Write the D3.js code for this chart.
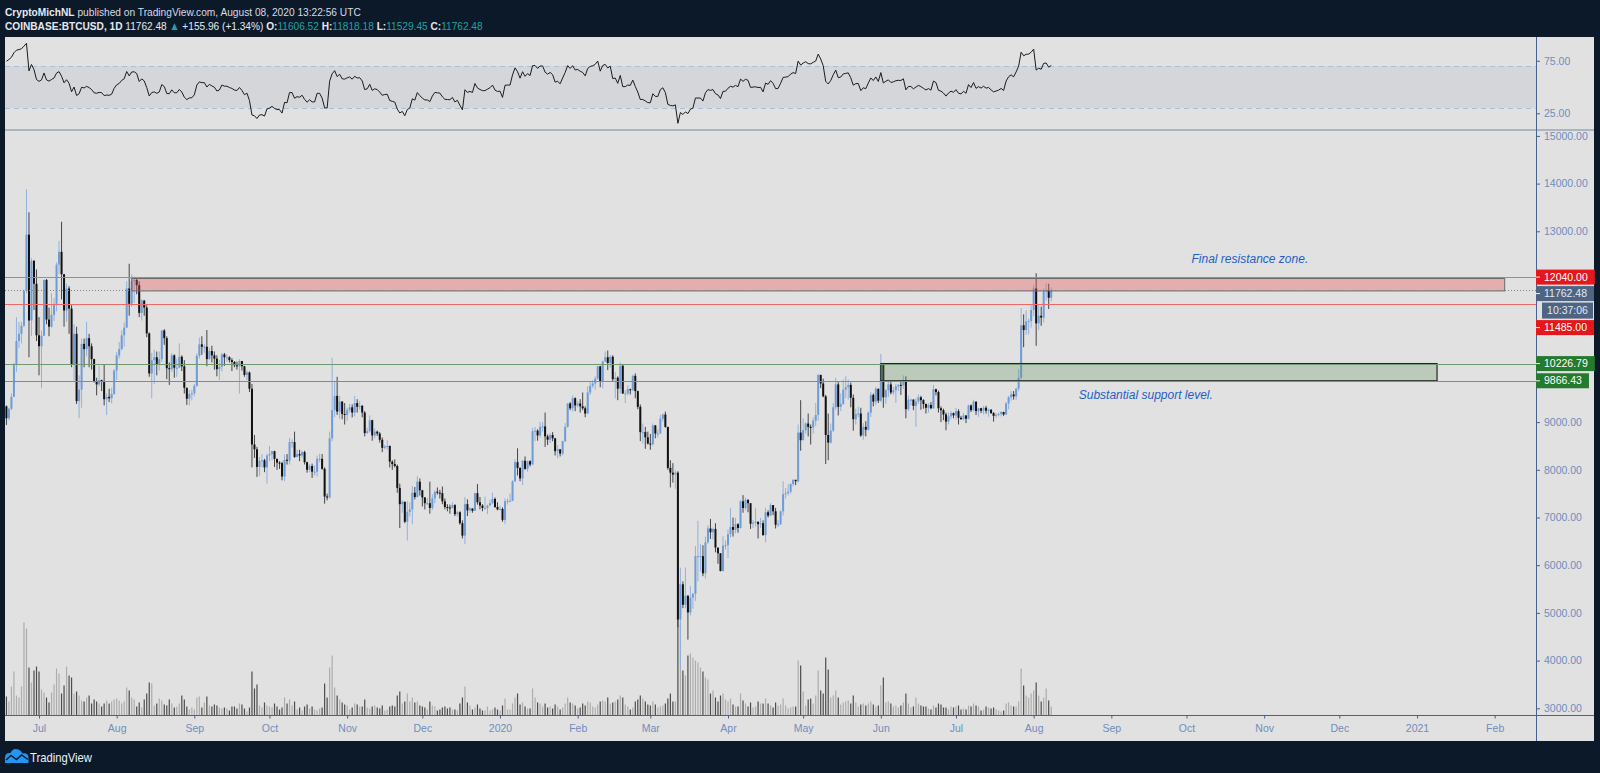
<!DOCTYPE html>
<html lang="en">
<head>
<meta charset="UTF-8">
<title>BTCUSD 1D</title>
<script src="https://cdn.jsdelivr.net/npm/d3@7"></script>
<style>
  html, body { margin: 0; padding: 0; background: #0c1929; }
  svg { display: block; font-family: "Liberation Sans", Arial, sans-serif; }
</style>
</head>
<body>
<svg id="chart" width="1600" height="773"></svg>
<script>
// ---- data (COINBASE:BTCUSD daily) ----
const startDay = "2019-06-18";
const firstOpen = 9330;
// closes Jun 4 - Jun 17 2019, only used to start the RSI
const warmupCloses = [7680, 7790, 7810, 8000, 7940, 7630, 8020, 7910, 8170, 8240, 8690, 8860, 8990, 9330];

const closes = [
  9080,9280,9530,10200,10700,10850,11020,11750,12930,11130,12380,11900,10820,
  10590,10810,11980,11150,11000,11250,11480,12300,12570,12100,11340,11800,11380,10200,10850,9440,9680,10640,10530,10760,10590,10320,9850,9790,9880,9850,9480,9530,9500,9590,10080,
  10400,10530,10820,10980,11800,11480,11960,11980,11870,11290,11550,11400,10860,10020,10300,10360,10220,10320,10920,10760,10130,10110,10400,10140,10140,10370,10170,9720,9490,9590,9600,
  9760,10390,10630,10580,10580,10320,10490,10400,10330,10110,10160,10420,10360,10360,10300,10260,10190,10170,10280,10170,9990,10040,9700,8530,8430,8060,8190,8200,8050,8300,
  8330,8390,8230,8150,8140,7860,8210,8190,8580,8580,8270,8330,8300,8370,8160,8000,8080,7960,7960,8230,8230,8020,7440,7420,8660,9250,9550,9220,9430,9170,9150,
  9250,9310,9200,9400,9320,9340,9200,8770,8810,9040,8720,8800,8760,8630,8460,8490,8500,8170,8120,8080,7620,7280,7330,6910,7120,7170,7520,7430,7750,7570,
  7420,7300,7300,7200,7400,7540,7520,7510,7340,7220,7210,7200,7260,7070,7110,6880,6620,7280,7150,7190,7140,7510,7320,7250,7200,7200,7250,7300,7390,7220,7170,
  7180,6950,7340,7350,7350,7760,8160,8040,7820,8190,8020,8180,8110,8810,8820,8720,8900,8910,8700,8630,8730,8660,8390,8430,8340,8600,8900,9390,9290,9500,9350,
  9390,9330,9290,9180,9620,9760,9810,9910,10170,9850,10270,10360,10240,10370,9900,9930,9700,10180,9600,9600,9690,9670,9970,9650,9320,8790,8790,8680,8550,
  8540,8930,8760,8760,9070,9160,8900,8040,7940,7900,7940,4860,5600,5170,5360,5010,5320,5400,6190,6190,6190,5830,6480,6770,6690,6760,6370,6250,5880,6410,6420,
  6650,6800,6740,6860,6780,7340,7200,7370,7300,6870,6890,6910,6860,6880,6630,7110,7040,7260,7130,6850,6860,7130,7490,7510,7540,7700,7790,7760,8780,8620,
  8830,8970,8900,8890,9030,9150,9990,9810,9540,8730,8570,8820,9310,9790,9320,9380,9680,9730,9780,9510,9060,9170,9180,8720,8900,8840,9200,9570,9430,9700,9450,
  10200,9520,9670,9790,9620,9670,9750,9780,9770,9880,9270,9470,9470,9340,9430,9520,9460,9380,9300,9360,9290,9690,9630,9290,9250,9160,9010,9120,9190,9140,
  9230,9090,9060,9140,9070,9350,9250,9430,9230,9290,9240,9300,9240,9260,9190,9130,9150,9170,9210,9160,9390,9520,9580,9540,9700,9930,11030,10930,11110,11120,11350,
  11800,11070,11230,11190,11740,11770,11606.52,11762.48
];

const highs = [
  9350,9300,9600,10240,11200,11100,11100,11780,13880,13400,12440,12400,12200,
  11200,10920,11990,12000,11400,11700,11600,12350,12800,13200,12100,11900,11850,11450,11050,11000,9980,10750,10750,11100,10850,10650,10330,9930,10180,9890,10200,9600,9700,9720,10110,
  10470,10680,10920,11090,11950,12320,12100,12050,12000,11950,11580,11550,11450,10880,10450,10520,10480,10480,10930,10950,10800,10250,10450,10420,10330,10650,10400,10300,9720,9670,9680,
  9800,10440,10770,10800,10630,10930,10560,10600,10480,10400,10300,10450,10450,10420,10380,10340,10280,10270,10320,10280,10180,10080,10060,9800,8730,8480,8270,8330,8230,8340,
  8500,8400,8400,8230,8180,8170,8320,8330,8670,8640,8800,8420,8420,8400,8400,8170,8120,8130,8090,8300,8340,8330,8050,7500,8800,10350,9850,9950,9550,9440,9400,
  9300,9380,9370,9550,9480,9440,9360,9230,8880,9140,9050,8860,8820,8790,8680,8520,8620,8510,8200,8220,8110,7710,7360,7330,7340,7320,7660,7640,7870,7820,
  7580,7430,7410,7750,7490,7570,7630,7580,7650,7400,7280,7270,7320,7280,7140,7130,6940,7430,7380,7220,7190,7520,7700,7430,7280,7440,7270,7370,7520,7420,7320,
  7250,7210,7400,7400,7500,7780,8220,8450,8050,8200,8280,8190,8200,8880,8900,8850,9000,9000,9200,8740,8770,8790,8670,8520,8430,8610,8980,9400,9420,9560,9520,
  9440,9480,9620,9330,9750,9860,9880,9960,10180,10180,10290,10480,10500,10400,10400,10050,9960,10250,10200,9670,9770,9700,9990,10020,9660,9370,8970,8900,8800,
  8750,8970,8940,8850,9150,9180,9220,8900,8200,8140,7990,7970,5950,5660,5950,5370,5560,5420,6400,6930,6450,6420,6600,6840,6970,6790,6880,6290,6250,6610,6520,
  6750,7200,7000,6990,6880,7360,7470,7420,7380,7300,6950,7200,6920,6990,6940,7200,7150,7300,7260,7200,6950,7150,7760,7620,7700,7720,7800,7790,8950,9460,
  9080,9000,9180,8950,9100,9400,10000,9990,9910,9570,9180,8970,9400,9930,9840,9600,9890,9960,9890,9830,9580,9280,9320,9300,8980,9020,9220,9630,9600,9740,9700,
  10430,10230,9690,9880,9850,9740,9800,9800,9880,9980,9960,9560,9490,9480,9500,9580,9550,9480,9390,9400,9420,9780,9700,9660,9330,9280,9200,9200,9230,9200,
  9300,9270,9130,9190,9140,9370,9370,9470,9430,9300,9300,9340,9340,9280,9270,9210,9190,9200,9230,9220,9420,9550,9650,9650,9720,10110,11390,11260,11340,11170,11450,
  11870,12120,11480,11420,11800,11910,11900,11818.18
];

const lows = [
  8940,9040,9250,9530,10050,10550,10650,10990,11700,10360,10800,11350,10700,
  9980,9710,10810,11050,10800,10980,11120,11320,12100,11570,11000,11100,10850,10150,9870,9380,9080,9300,10150,10380,10150,10100,9830,9560,9750,9650,9350,9150,9420,9390,9570,
  9880,10330,10500,10580,10980,11230,11420,11500,11680,11200,11130,11230,10780,9950,9500,9800,9980,10080,10260,10620,9900,9780,10050,9930,9950,10130,10070,9600,9360,9350,9450,
  9540,9740,10330,10410,10450,10170,10310,10250,10100,9960,9880,10060,10180,10270,10250,10070,10150,10100,9600,10080,9950,9880,9630,8050,8250,7850,7870,8050,7950,7710,
  8180,8200,8060,8000,8020,7780,7760,8110,8110,8460,8250,8260,8180,8250,8110,7940,7950,7830,7880,7860,8160,8000,7290,7360,7400,8600,9100,9150,9070,9060,8950,
  9030,9200,9100,9120,9200,9260,9100,8700,8750,8780,8610,8660,8710,8570,8370,8430,8420,8050,8000,8050,7520,6780,7100,6880,6520,7020,6860,7380,7420,7460,
  7230,7170,7260,7080,7160,7300,7480,7400,7280,7170,7130,7080,7190,7030,7020,6850,6560,6440,7030,7100,7100,7140,7270,7170,7130,7160,7070,7250,7280,7200,7150,
  7150,6910,6860,7270,7320,7340,7740,7880,7760,7680,8000,7960,8070,8110,8600,8610,8680,8800,8480,8520,8560,8600,8300,8240,8280,8300,8580,8880,9250,9220,9230,
  9310,9200,9250,9100,9170,9570,9720,9680,9890,9730,9710,10260,10090,10140,9860,9500,9460,9600,9590,9400,9560,9580,9650,9500,9270,8600,8550,8440,8530,
  8420,8500,8660,8680,8760,9010,8880,8000,7630,7730,7600,4700,3860,5100,5100,4440,4950,5090,5250,5660,5870,5770,5720,6450,6550,6540,6270,6030,5870,5860,6330,
  6150,6580,6600,6670,6680,6770,7100,7150,7110,6760,6780,6810,6560,6780,6620,6480,7000,7030,7050,6770,6800,6840,7040,7400,7460,7500,7650,7680,7730,8400,
  8620,8760,8700,8530,8760,8920,9030,9710,9520,8120,8200,8550,8790,9260,9140,9230,9360,9500,9470,9310,8820,8950,9100,8690,8630,8700,8820,9110,9330,9360,9400,
  9420,9300,9380,9520,9580,9570,9400,9650,9570,9690,9080,9230,9350,9250,8900,9380,9260,9280,9180,9200,9270,9280,9560,9200,9000,9040,8830,8950,9060,9080,
  9050,8950,9050,9050,8980,9060,9210,9230,9150,9110,9190,9160,9180,9110,9170,9010,9090,9120,9120,9130,9150,9270,9450,9470,9470,9650,9900,10570,10830,10840,10980,
  11220,10600,10930,11020,11090,11550,11370,11529.45
];

// volume, thousand BTC
const volumes = [
  19,14,29,44,20,18,29,93,87,48,33,45,49,
  44,26,23,18,13,23,31,47,42,22,30,49,40,38,22,24,20,15,14,18,20,12,16,14,12,9,12,15,12,14,16,
  17,15,12,14,28,25,18,16,9,13,8,16,22,33,32,10,12,17,15,11,10,16,12,8,9,12,20,16,9,6,8,
  6,18,19,8,13,19,10,9,11,10,8,7,8,7,5,9,9,7,12,11,7,4,8,44,27,31,10,8,13,10,
  9,8,12,9,6,8,18,12,16,10,14,6,8,5,9,11,7,9,6,5,7,8,32,18,48,60,28,20,16,13,11,
  10,6,8,12,11,9,9,16,8,7,9,10,8,7,10,5,6,9,10,9,20,24,12,14,22,14,18,13,14,10,
  9,8,6,14,10,9,5,6,8,9,7,8,6,6,5,12,18,29,13,10,6,8,11,7,5,5,9,5,6,8,6,
  5,10,17,6,6,12,18,22,11,13,9,7,7,27,18,13,12,9,12,8,9,7,11,9,6,8,12,18,13,12,10,
  7,8,12,10,14,13,9,8,11,14,15,14,18,12,13,14,16,20,18,11,9,6,8,14,16,20,17,14,11,
  10,14,11,8,9,10,12,17,22,14,14,96,92,45,40,60,62,58,55,53,48,44,38,36,22,25,18,14,20,22,16,
  14,17,11,9,9,22,15,12,9,13,8,9,14,12,12,17,12,10,8,13,10,11,17,10,7,8,9,9,55,50,
  24,10,16,17,12,20,45,25,22,58,46,18,20,25,18,11,13,14,15,12,20,13,9,11,12,10,12,14,11,9,10,
  30,38,13,14,12,9,10,8,10,13,22,12,8,9,18,12,10,9,9,7,6,10,8,12,11,8,8,6,9,8,
  9,10,6,7,6,10,9,12,10,9,5,6,9,8,7,8,6,5,4,5,12,13,10,9,9,14,47,30,20,18,22,
  25,33,20,14,18,27,15,9
];

const priceTicks = [3000,4000,5000,6000,7000,8000,9000,10000,11000,12000,13000,14000,15000];
const rsiTicks = [25, 75];
const rsiBand = [30, 70];

const resistanceLevels = [12040, 11485];
const resistanceBox = [11750, 12010];
const resistanceDates = ["2019-08-07", "2021-02-05"];
const supportLevels = [10226.79, 9866.43];
const supportDates = ["2020-06-01", "2021-01-09"];

const noteTexts = ["Final resistance zone.", "Substantial support level."];
const noteDates = ["2020-10-03", "2020-08-19"];
const notePrices = [12330, 9480];

const lastPrice = 11762.48;
const countdown = "10:37:06";

// ---- layout ----
const svg = d3.select("#chart");
const pLeft = 5, axisX = 1536, pRight = 1594, pTop = 37, pBottom = 741, rsiBottom = 130, timeY = 715.5;
const bg = "#0c1929", paper = "#e1e1e1", axisText = "#6f8dbd", axisLine = "#47628f";
const parseDay = d3.utcParse("%Y-%m-%d");
const crisp = v => Math.round(v) + 0.5;

const x = d3.scaleUtc().domain([parseDay("2019-07-01"), parseDay("2021-01-01")]).range([39, 1417]);
const y = d3.scaleLinear().domain([3000, 15000]).range([708.3, 135.9]);
const yRsi = d3.scaleLinear().domain([30, 70]).range([108, 66]);
const yVol = d3.scaleLinear().domain([0, 100]).range([715.5, 615.5]);

const bars = closes.map((c, i) => ({
  date: d3.utcDay.offset(parseDay(startDay), i),
  open: i === 0 ? firstOpen : closes[i - 1],
  high: highs[i], low: lows[i], close: c, vol: volumes[i]
}));

// RSI 14 (Wilder)
const allCloses = warmupCloses.concat(closes);
let avgG = 0, avgL = 0;
for (let i = 1; i <= 14; i++) {
  const ch = allCloses[i] - allCloses[i - 1];
  if (ch > 0) avgG += ch; else avgL -= ch;
}
avgG /= 14; avgL /= 14;
const rsi = [];
for (let i = 14; i < allCloses.length; i++) {
  if (i > 14) {
    const ch = allCloses[i] - allCloses[i - 1];
    avgG = (avgG * 13 + Math.max(ch, 0)) / 14;
    avgL = (avgL * 13 + Math.max(-ch, 0)) / 14;
  }
  rsi.push(avgL === 0 ? 100 : 100 - 100 / (1 + avgG / avgL));
}

// background + chart paper
svg.append("rect").attr("width", 1600).attr("height", 773).attr("fill", bg);
svg.append("rect").attr("x", pLeft).attr("y", pTop).attr("width", pRight - pLeft).attr("height", pBottom - pTop).attr("fill", paper);

const defs = svg.append("defs");
defs.append("clipPath").attr("id", "clipMain").append("rect")
  .attr("x", pLeft).attr("y", rsiBottom + 1).attr("width", axisX - pLeft).attr("height", timeY - rsiBottom - 1);
defs.append("clipPath").attr("id", "clipRsi").append("rect")
  .attr("x", pLeft).attr("y", pTop).attr("width", axisX - pLeft).attr("height", rsiBottom - pTop);

// ---- header ----
function header(yPos, parts, target) {
  const g = svg.append("g");
  const t = g.append("text").attr("x", 0).attr("y", 0).attr("font-size", 11.6);
  parts.forEach(p => t.append("tspan").text(p[0]).attr("fill", p[1]).attr("font-weight", p[2] ? "bold" : null));
  const w = t.node().getComputedTextLength();
  g.attr("transform", `translate(${pLeft},${yPos}) scale(${target / w},1)`);
}
const wht = "#e4e9f1", teal = "#1fa3a3";
header(16, [["CryptoMichNL", wht, true], [" published on TradingView.com, August 08, 2020 13:22:56 UTC", "#d6dce6"]], 356);
header(29.5, [["COINBASE:BTCUSD, 1D", wht, true], ["  11762.48 ", wht], ["\u25B2", teal], [" +155.96 (+1.34%) ", wht],
  ["O:", wht, true], ["11606.52", teal], [" H:", wht, true], ["11818.18", teal], [" L:", wht, true], ["11529.45", teal],
  [" C:", wht, true], ["11762.48", teal]], 478);

// ---- RSI pane ----
const rsiG = svg.append("g").attr("clip-path", "url(#clipRsi)");
rsiG.append("rect").attr("x", pLeft).attr("width", axisX - pLeft)
  .attr("y", yRsi(rsiBand[1])).attr("height", yRsi(rsiBand[0]) - yRsi(rsiBand[1])).attr("fill", "#d4d6da");
rsiG.selectAll("line.band").data(rsiBand).join("line")
  .attr("x1", pLeft).attr("x2", axisX).attr("y1", d => crisp(yRsi(d))).attr("y2", d => crisp(yRsi(d)))
  .attr("stroke", "#a9bfdc").attr("stroke-dasharray", "5,4");
rsiG.append("path").datum(rsi)
  .attr("d", d3.line().x((d, i) => x(bars[i].date)).y(d => yRsi(d)))
  .attr("fill", "none").attr("stroke", "#1b1b1b").attr("stroke-width", 1);

svg.append("line").attr("x1", pLeft).attr("x2", pRight).attr("y1", rsiBottom).attr("y2", rsiBottom)
  .attr("stroke", "#98a4b6").attr("stroke-width", 1.5);

// ---- main pane ----
const main = svg.append("g").attr("clip-path", "url(#clipMain)");

main.selectAll("rect.vol").data(bars).join("rect")
  .attr("x", d => x(d.date) - 0.6).attr("width", 1.2)
  .attr("y", d => yVol(d.vol)).attr("height", d => yVol(0) - yVol(d.vol))
  .attr("fill", d => d.close >= d.open ? "#adadad" : "#4d4d4d");

const upBody = "#6f9bd6", upWick = "#93b1dc", dnBody = "#111", dnWick = "#444";
main.selectAll("line.wick").data(bars).join("line")
  .attr("x1", d => x(d.date)).attr("x2", d => x(d.date))
  .attr("y1", d => y(d.high)).attr("y2", d => y(d.low))
  .attr("stroke", d => d.close >= d.open ? upWick : dnWick).attr("stroke-width", 1);
main.selectAll("rect.body").data(bars).join("rect")
  .attr("x", d => x(d.date) - 1).attr("width", 2)
  .attr("y", d => y(Math.max(d.open, d.close)))
  .attr("height", d => Math.max(1, Math.abs(y(d.open) - y(d.close))))
  .attr("fill", d => d.close >= d.open ? upBody : dnBody);

// zones
main.append("rect")
  .attr("x", x(parseDay(resistanceDates[0]))).attr("width", x(parseDay(resistanceDates[1])) - x(parseDay(resistanceDates[0])))
  .attr("y", y(resistanceBox[1])).attr("height", y(resistanceBox[0]) - y(resistanceBox[1]))
  .attr("fill", "rgba(232,84,84,0.36)").attr("stroke", "#6b6b6b").attr("stroke-width", 1);
main.append("rect")
  .attr("x", x(parseDay(supportDates[0]))).attr("width", x(parseDay(supportDates[1])) - x(parseDay(supportDates[0])))
  .attr("y", y(supportLevels[0])).attr("height", y(supportLevels[1]) - y(supportLevels[0]))
  .attr("fill", "rgba(100,150,95,0.3)").attr("stroke", "#1d2a1d").attr("stroke-width", 1.2);

main.selectAll("line.res").data(resistanceLevels).join("line")
  .attr("x1", pLeft).attr("x2", axisX).attr("y1", d => crisp(y(d))).attr("y2", d => crisp(y(d)))
  .attr("stroke", "#ee6a6a").attr("stroke-width", 1);
main.selectAll("line.sup").data(supportLevels).join("line")
  .attr("x1", pLeft).attr("x2", axisX).attr("y1", d => crisp(y(d))).attr("y2", d => crisp(y(d)))
  .attr("stroke", "#6f9a6f").attr("stroke-width", 1);
main.append("line").attr("x1", pLeft).attr("x2", axisX).attr("y1", crisp(y(lastPrice))).attr("y2", crisp(y(lastPrice)))
  .attr("stroke", "#7d838d").attr("stroke-dasharray", "1,2");

main.selectAll("text.note").data(noteTexts).join("text")
  .attr("x", (d, i) => x(parseDay(noteDates[i]))).attr("y", (d, i) => y(notePrices[i]))
  .attr("font-size", 12).attr("font-style", "italic").attr("fill", "#1f5fc6").text(d => d);

// ---- axes ----
svg.append("line").attr("x1", axisX + 0.5).attr("x2", axisX + 0.5).attr("y1", pTop).attr("y2", pBottom).attr("stroke", axisLine);
svg.append("line").attr("x1", pLeft).attr("x2", pRight).attr("y1", timeY).attr("y2", timeY).attr("stroke", axisLine);

function styleAxis(g) {
  g.select(".domain").remove();
  g.selectAll("line").attr("stroke", axisLine);
  g.selectAll("text").attr("fill", axisText).attr("font-family", "Liberation Sans, Arial, sans-serif").attr("font-size", 10.5);
}
const priceAxis = svg.append("g").attr("transform", `translate(${axisX},0)`)
  .call(d3.axisRight(y).tickValues(priceTicks).tickFormat(d3.format(".2f")).tickSize(4).tickPadding(4))
  .call(styleAxis);
svg.append("g").attr("transform", `translate(${axisX},0)`)
  .call(d3.axisRight(yRsi).tickValues(rsiTicks).tickFormat(d3.format(".2f")).tickSize(4).tickPadding(4))
  .call(styleAxis);

const months = d3.utcMonths(parseDay("2019-07-01"), parseDay("2021-02-02"));
svg.append("g").attr("transform", `translate(0,${timeY})`)
  .call(d3.axisBottom(x).tickValues(months)
    .tickFormat(d => d.getUTCMonth() === 0 ? d3.utcFormat("%Y")(d) : d3.utcFormat("%b")(d))
    .tickSize(3).tickPadding(6))
  .call(styleAxis);

// ---- price labels on the axis ----
const markPrices = [12040, lastPrice, 11485, 10226.79, 9866.43];
const markKinds = ["res", "last", "res", "sup", "sup"];
const kindFill = { res: "#e3171c", last: "#4e6483", sup: "#247a2f" };
let prevBottom = -Infinity;
const boxH = 15;
const covered = [];
markPrices.forEach((p, i) => {
  const kind = markKinds[i];
  const yTop = Math.max(y(p) - boxH / 2, prevBottom + 1.5);
  const g = svg.append("g");
  const box = g.append("rect").attr("x", axisX).attr("y", yTop).attr("height", boxH).attr("fill", kindFill[kind]);
  g.append("line").attr("x1", axisX).attr("x2", axisX + 4).attr("y1", yTop + boxH / 2).attr("y2", yTop + boxH / 2)
    .attr("stroke", "#f2f2f2");
  const t = g.append("text").attr("x", axisX + 8).attr("y", yTop + boxH / 2).attr("dy", "0.35em")
    .attr("font-size", 10.5).attr("fill", kind === "last" ? "#e4e9f1" : "#ffffff").text(d3.format(".2f")(p));
  box.attr("width", t.node().getComputedTextLength() + 15);
  covered.push([yTop - 4, yTop + boxH + 4]);
  prevBottom = yTop + boxH;
  if (kind === "last") {
    const cTop = prevBottom + 1.5;
    g.append("rect").attr("x", axisX + 6).attr("y", cTop).attr("width", pRight - 1 - axisX - 6).attr("height", 16)
      .attr("fill", kindFill.last);
    g.append("text").attr("x", axisX + 6 + (pRight - 1 - axisX - 6) / 2).attr("y", cTop + 8).attr("dy", "0.35em")
      .attr("text-anchor", "middle").attr("font-size", 10.5).attr("fill", "#e4e9f1").text(countdown);
    covered.push([cTop - 4, cTop + 20]);
    prevBottom = cTop + 16;
  }
});
// axis prices hidden under the coloured labels
priceAxis.selectAll(".tick").filter(d => covered.some(r => y(d) > r[0] && y(d) < r[1])).select("text").remove();

// ---- TradingView logo ----
const logo = svg.append("g");
logo.append("path")
  .attr("d", "M5 763 L5 758 Q5 752.5 10.5 753 Q13 747.5 18.5 749.5 Q21.5 751 22.5 753.5 Q28.5 752.5 28.5 758 L28.5 763 Z")
  .attr("fill", "#2196f3");
logo.append("path").attr("d", "M6 760 L11 755.5 L16.5 759.5 L21.5 755 L28 759.5")
  .attr("fill", "none").attr("stroke", bg).attr("stroke-width", 1.4);
logo.append("text").attr("x", 30).attr("y", 762).attr("font-size", 13.5).attr("fill", "#eef2f7")
  .attr("textLength", 62).attr("lengthAdjust", "spacingAndGlyphs").text("TradingView");
</script>
</body>
</html>
